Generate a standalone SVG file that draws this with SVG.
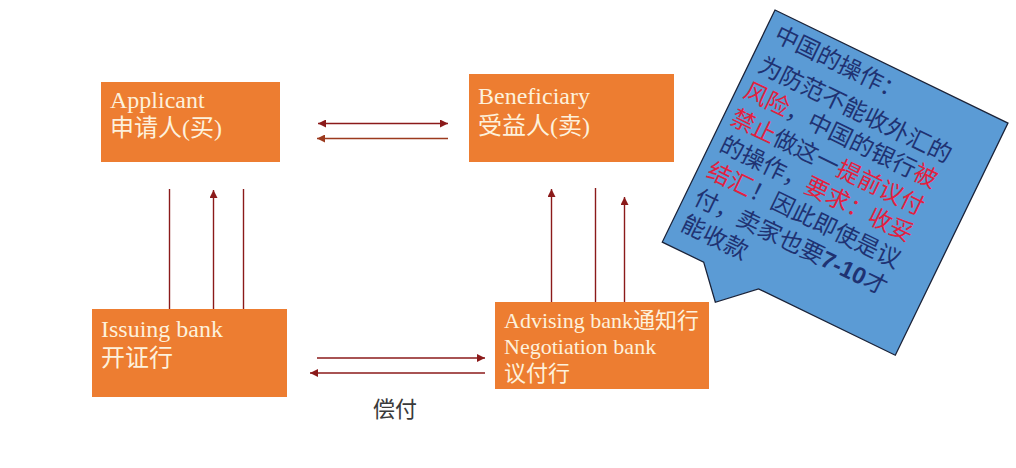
<svg xmlns="http://www.w3.org/2000/svg" width="1016" height="468" viewBox="0 0 1016 468">
<style>
.box{fill:#ED7D31;}
.bt{font-family:"Liberation Serif","Noto Sans CJK SC",serif;fill:#FDF1DC;font-size:24px;}
.bt2{font-family:"Liberation Serif","Noto Sans CJK SC",serif;fill:#FDF1DC;font-size:22px;}
.ln{stroke:#8B1A1A;stroke-width:1.4;fill:none;}
.ln2{stroke:#9C3A1E;stroke-width:1.4;fill:none;}
.ct{font-family:"Noto Sans CJK SC",sans-serif;font-size:23.5px;fill:#1F3272;}
.red{fill:#E3203F;}
.lbl{font-family:"Noto Sans CJK SC",sans-serif;font-size:22px;fill:#3A3A3A;}
</style>
<defs>
<marker id="ah" viewBox="0 0 10 10" refX="10" refY="5" markerWidth="9" markerHeight="8" markerUnits="userSpaceOnUse" orient="auto-start-reverse">
<path d="M0,0 L10,5 L0,10 z" fill="#8B1A1A"/>
</marker>
<marker id="ah2" viewBox="0 0 10 10" refX="10" refY="5" markerWidth="9" markerHeight="8" markerUnits="userSpaceOnUse" orient="auto-start-reverse">
<path d="M0,0 L10,5 L0,10 z" fill="#9C3A1E"/>
</marker>
</defs>
<rect width="1016" height="468" fill="#FFFFFF"/>

<g id="applicant">
<rect class="box" x="101" y="82" width="179" height="80"/>
<text class="bt" x="110" y="108">Applicant</text>
<text class="bt" x="110" y="136">申请人(买)</text>
</g>

<g id="beneficiary">
<rect class="box" x="469" y="74" width="205" height="88"/>
<text class="bt" x="478" y="104">Beneficiary</text>
<text class="bt" x="478" y="134">受益人(卖)</text>
</g>

<g id="issuing">
<rect class="box" x="92" y="309" width="195" height="88"/>
<text class="bt" x="101" y="337">Issuing bank</text>
<text class="bt" x="101" y="366">开证行</text>
</g>

<g id="advising">
<rect class="box" x="495" y="302" width="214" height="87"/>
<text class="bt2" x="504" y="328">Advising bank通知行</text>
<text class="bt2" x="504" y="354">Negotiation bank</text>
<text class="bt2" x="504" y="381">议付行</text>
</g>

<g id="connectors">
<line class="ln" x1="318" y1="123.5" x2="448" y2="123.5" marker-start="url(#ah)" marker-end="url(#ah)"/>
<line class="ln2" x1="448" y1="138.5" x2="317" y2="138.5" marker-end="url(#ah2)"/>
<line class="ln" x1="169.5" y1="309" x2="169.5" y2="189"/>
<line class="ln" x1="213.5" y1="309" x2="213.5" y2="190" marker-end="url(#ah)"/>
<line class="ln" x1="243.5" y1="309" x2="243.5" y2="189"/>
<line class="ln" x1="551.5" y1="302" x2="551.5" y2="189" marker-end="url(#ah)"/>
<line class="ln" x1="595.5" y1="302" x2="595.5" y2="188"/>
<line class="ln" x1="624.5" y1="302" x2="624.5" y2="197" marker-end="url(#ah)"/>
<line class="ln" x1="317" y1="358" x2="485" y2="358" marker-end="url(#ah)"/>
<line class="ln" x1="485" y1="373" x2="310" y2="373" marker-end="url(#ah)"/>
</g>

<g id="label-changfu">
<text class="lbl" x="373" y="417">偿付</text>
</g>

<g id="callout" transform="translate(775,10) rotate(25.9)">
<polygon points="0,0 259,0 259,258 107,258 74,289 46,258 0,258" fill="#5B9BD5" stroke="#1A2238" stroke-width="1.3"/>
<text class="ct" x="11" y="28">中国的操作：</text>
<text class="ct" x="10" y="63">为防范不能收外汇的</text>
<text class="ct" x="8" y="92"><tspan class="red">风险</tspan>，中国的银行<tspan class="red">被</tspan></text>
<text class="ct" x="8" y="122"><tspan class="red">禁止</tspan>做这一<tspan class="red">提前议付</tspan></text>
<text class="ct" x="10" y="151">的操作，<tspan class="red">要求：收妥</tspan></text>
<text class="ct" x="10" y="180"><tspan class="red">结汇</tspan>！因此即使是议</text>
<text class="ct" x="10" y="210">付，卖家也要<tspan font-family="Liberation Sans, sans-serif" font-weight="bold">7-10</tspan>才</text>
<text class="ct" x="10" y="239">能收款</text>
</g>
</svg>
